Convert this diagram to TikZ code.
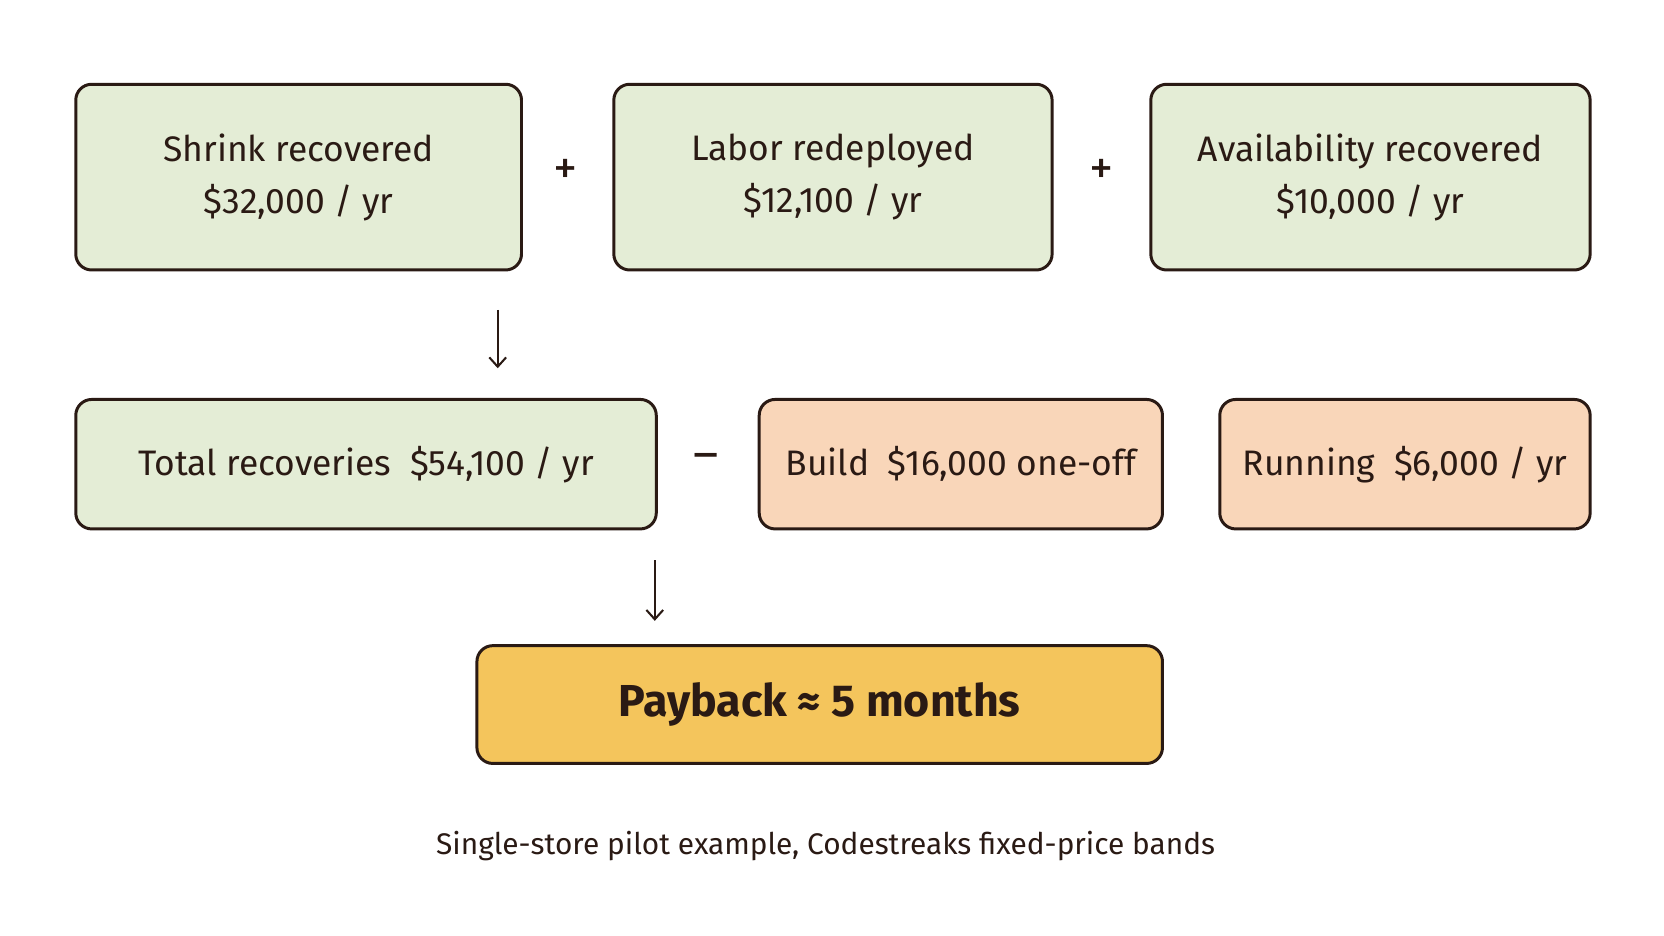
\documentclass[tikz,border=0pt]{standalone}
\usepackage{fontspec}
\setmainfont{Fira Sans}
\usetikzlibrary{arrows.meta}
\definecolor{gr}{HTML}{E4EDD6}
\definecolor{pe}{HTML}{F9D6B9}
\definecolor{ye}{HTML}{F4C55C}
\definecolor{bd}{HTML}{2A1A14}
\begin{document}
\begin{tikzpicture}[x=0.02cm,y=-0.02cm,
 box/.style={draw=bd,line width=1.6pt,rounded corners=0.3cm,anchor=north west,inner sep=0pt,align=center,text=bd,font=\fontsize{19}{28}\selectfont},
 op/.style={text=bd,font=\fontsize{26}{26}\selectfont},
 arr/.style={draw=bd,line width=1.1pt,-{Straight Barb[length=5pt,width=9pt]}}]
\useasboundingbox[fill=white] (0,0) rectangle (1568,882);
\node[box,fill=gr,minimum width=420*0.02cm,minimum height=175*0.02cm] (a) at (70,78) {Shrink recovered\\\$32,000 / yr};
\node[box,fill=gr,minimum width=413*0.02cm,minimum height=175*0.02cm] (b) at (577,78) {Labor redeployed\\\$12,100 / yr};
\node[box,fill=gr,minimum width=414*0.02cm,minimum height=175*0.02cm] (c) at (1083,78) {Availability recovered\\\$10,000 / yr};
\node[op] (p1) at (533,162) {+};
\node[op] (p2) at (1038,162) {+};
\node[box,fill=gr,minimum width=547*0.02cm,minimum height=122*0.02cm] (t) at (70,375) {Total recoveries\ \ \$54,100 / yr};
\node[op] (m) at (665,435) {–};
\node[box,fill=pe,minimum width=380*0.02cm,minimum height=122*0.02cm] (bu) at (714,375) {Build\ \ \$16,000 one-off};
\node[box,fill=pe,minimum width=349*0.02cm,minimum height=122*0.02cm] (r) at (1148,375) {Running\ \ \$6,000 / yr};
\node[box,fill=ye,minimum width=646*0.02cm,minimum height=111*0.02cm,font=\fontsize{24}{28}\selectfont\bfseries] (pb) at (448,607) {Payback ≈ 5 months};
\coordinate (a1) at (469,292); \coordinate (a2) at (469,347);
\coordinate (b1) at (617,528); \coordinate (b2) at (617,585);
\draw[arr] (a1) -- (a2);
\draw[arr] (b1) -- (b2);
\node[text=bd,font=\fontsize{16}{20}\selectfont] (cap) at (778,797) {Single-store pilot example, Codestreaks fixed-price bands};
\end{tikzpicture}
\end{document}
